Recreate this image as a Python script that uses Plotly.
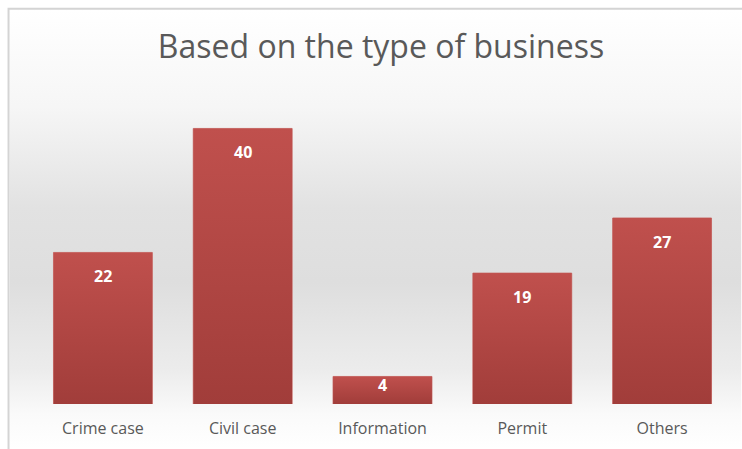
import base64
import plotly.graph_objects as go

categories = ["Crime case", "Civil case", "Information", "Permit", "Others"]
values = [22, 40, 4, 19, 27]
title_text = "Based on the type of business"

W, H = 742, 449
ML, MR, MT, MB = 32.5, 9.5, 93.5, 45
YMAX = 45
BARGAP = 0.293
pw, ph = W - ML - MR, H - MT - MB

def svg_uri(stops):
    s = "".join(f"<stop offset='{o}' stop-color='{c}'/>" for o, c in stops)
    svg = ("<svg xmlns='http://www.w3.org/2000/svg' width='100' height='100' preserveAspectRatio='none'>"
           "<defs><linearGradient id='g' x1='0' y1='0' x2='0' y2='1'>" + s +
           "</linearGradient></defs><rect width='100' height='100' fill='url(#g)'/></svg>")
    return "data:image/svg+xml;base64," + base64.b64encode(svg.encode()).decode()

bg_src = svg_uri([(0, "#ffffff"), (0.22, "#f6f6f6"), (0.45, "#e2e2e2"), (0.62, "#dedede"),
                  (0.82, "#ececec"), (0.92, "#fafafa"), (1, "#ffffff")])
bar_src = svg_uri([(0, "#c0504d"), (1, "#a13d3a")])

def px_x(x):
    return (x - ML) / pw

def px_y(y):
    return (H - MB - y) / ph

fig = go.Figure()
fig.add_trace(go.Bar(
    x=categories, y=values,
    marker=dict(color="#b04744", line=dict(color="#c9716e", width=1)),
    hoverinfo="x+y",
))

# gradient overlay on each bar, placed through the data axes
for i, v in enumerate(values):
    fig.add_layout_image(dict(source=bar_src, xref="x", yref="y",
                              x=i, y=v, sizex=1 - BARGAP, sizey=v,
                              xanchor="center", yanchor="top",
                              sizing="stretch", layer="above"))

for c, v in zip(categories, values):
    hpx = v / YMAX * ph
    shift = -23.5 if hpx > 60 else -8.5
    fig.add_annotation(x=c, y=v, text=f"<b>{v}</b>", showarrow=False,
                       yshift=shift, yanchor="middle",
                       font=dict(family="Open Sans", size=16, color="white"))

fig.add_layout_image(dict(source=bg_src, xref="paper", yref="paper",
                          x=px_x(9), y=px_y(9), sizex=(W - 9) / pw, sizey=(H - 9) / ph,
                          sizing="stretch", layer="below", xanchor="left", yanchor="top"))

fig.add_shape(type="rect", xref="paper", yref="paper",
              x0=px_x(8), y0=px_y(8), x1=px_x(W + 5), y1=px_y(H + 5),
              line=dict(color="#d4d4d4", width=2), fillcolor="rgba(0,0,0,0)", layer="below")

fig.update_layout(
    width=W, height=H,
    margin=dict(l=ML, r=MR, t=MT, b=MB, pad=0),
    paper_bgcolor="white", plot_bgcolor="rgba(0,0,0,0)",
    bargap=BARGAP,
    showlegend=False,
    title=dict(text=title_text, x=381 / W, xanchor="center", y=1 - 47 / H, yanchor="middle",
               font=dict(family="Open Sans", size=32, color="#595959")),
    xaxis=dict(showgrid=False, showline=False, zeroline=False, ticks="outside", ticklen=10,
               tickcolor="rgba(0,0,0,0)",
               tickfont=dict(family="Open Sans", size=16, color="#595959")),
    yaxis=dict(range=[0, YMAX], visible=False, showgrid=False, zeroline=False),
)

fig.write_html("out.html")
